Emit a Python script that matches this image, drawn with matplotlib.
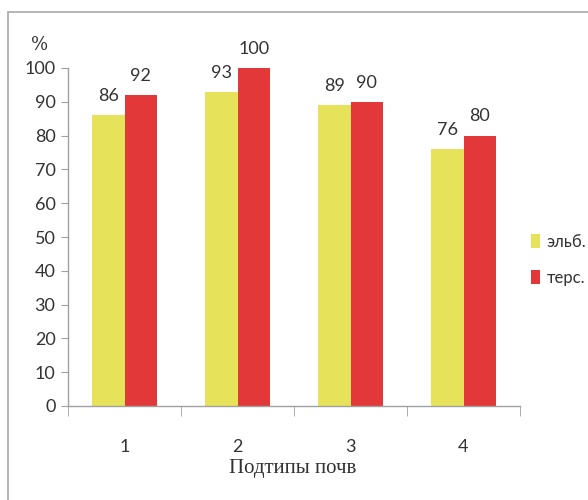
import matplotlib
matplotlib.use("Agg")
import matplotlib.pyplot as plt
from matplotlib.patches import Rectangle
import numpy as np

categories = ["1", "2", "3", "4"]
elb = [86, 93, 89, 76]
ters = [92, 100, 90, 80]
series_names = ["эльб.", "терс."]
yticks = list(range(0, 101, 10))

plt.rcParams['font.family'] = ['Lato', 'DejaVu Sans']

fig = plt.figure(figsize=(5.88, 5.0), dpi=100)
ax = fig.add_axes([68/588, 94/500, 452/588, 338/500])

x = np.arange(len(categories))
w = 0.29
yellow = "#E6E35A"
red = "#E2383A"
b1 = ax.bar(x - w/2, elb, w, color=yellow, label=series_names[0])
b2 = ax.bar(x + w/2, ters, w, color=red, label=series_names[1])

for rects, vals in ((b1, elb), (b2, ters)):
    for r, v in zip(rects, vals):
        ax.annotate(str(v), (r.get_x() + r.get_width()/2, v), xytext=(0, 8),
                    textcoords="offset points", ha="center", va="bottom",
                    fontsize=13, color="#333333")

ax.set_xlim(-0.5, 3.5)
ax.set_ylim(0, 100)
ax.set_yticks(yticks)
ax.set_xticks(x)
ax.set_xticklabels(categories)
ax.set_xticks(np.arange(-0.5, 4.0, 1.0), minor=True)
ax.tick_params(axis='x', which='major', length=0, pad=24, labelsize=13, labelcolor="#333333")
ax.tick_params(axis='x', which='minor', length=7, color="#A0A0A0", direction='out')
ax.tick_params(axis='y', length=5, color="#A0A0A0", labelsize=13, labelcolor="#333333", pad=4)

for s in ("top", "right"):
    ax.spines[s].set_visible(False)
for s in ("left", "bottom"):
    ax.spines[s].set_color("#A0A0A0")
    ax.spines[s].set_linewidth(1.0)

fig.text(40/588, 1 - 45/500, "%", fontsize=13, ha="center", va="center",
         color="#333333", family=["DejaVu Serif"])
fig.text(293/588, 1 - 468/500, "Подтипы почв", fontsize=15, ha="center", va="center",
         color="#333333", family=["Liberation Serif", "DejaVu Serif"])

leg = ax.legend(loc="center left", bbox_to_anchor=((531 - 68)/452, 1 - (260 - 68)/338),
                frameon=False, fontsize=12, handlelength=0.55, handleheight=0.9,
                handletextpad=0.4, labelspacing=1.2, borderaxespad=0, borderpad=0)
for t in leg.get_texts():
    t.set_color("#333333")

fig.patches.append(Rectangle((8/588, -0.1), 1.0, 1 - 12/500 + 0.1, transform=fig.transFigure,
                             fill=False, edgecolor="#A8A8A8", linewidth=1.2))

fig.savefig("out.png", dpi=100)
